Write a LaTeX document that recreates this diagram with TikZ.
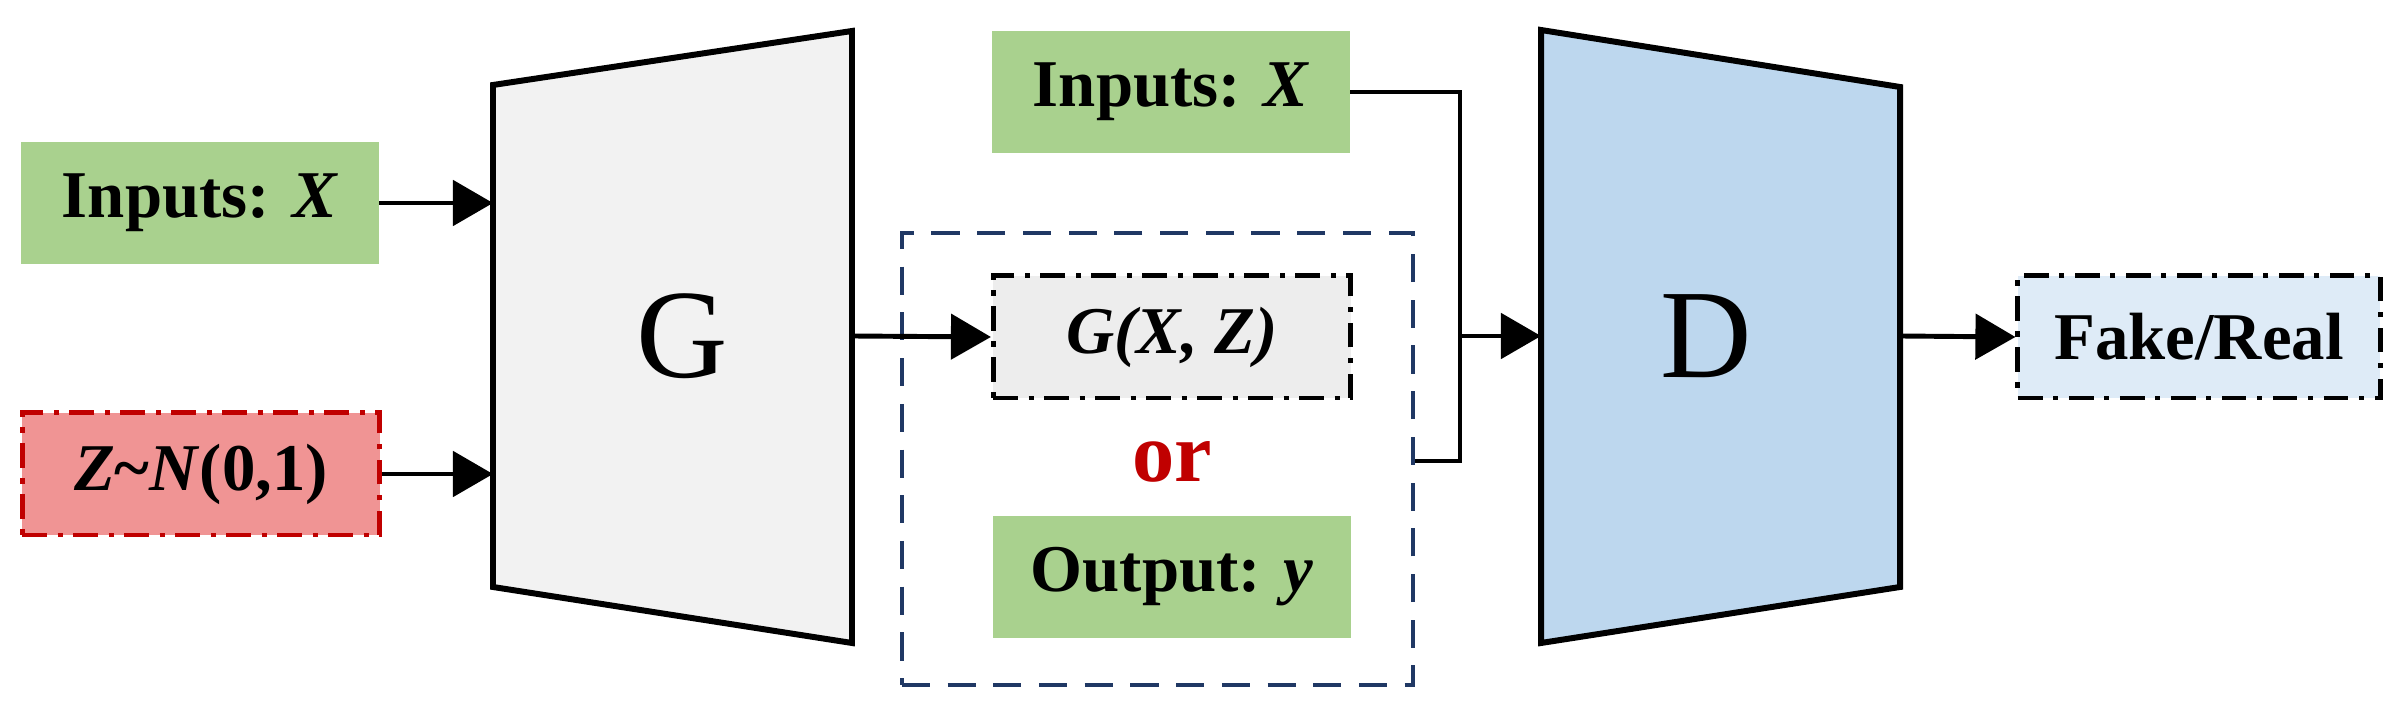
\documentclass[tikz,border=0pt]{standalone}
\usepackage{fontspec}
\setmainfont{Liberation Serif}
\usetikzlibrary{arrows.meta}
\definecolor{gr}{HTML}{A9D18E}
\definecolor{rd}{HTML}{F09494}
\definecolor{rdb}{HTML}{C00000}
\definecolor{gg}{HTML}{F2F2F2}
\definecolor{dd}{HTML}{BDD7EE}
\definecolor{gx}{HTML}{EDEDED}
\definecolor{fr}{HTML}{DEEBF7}
\definecolor{nv}{HTML}{203864}
\begin{document}
\begin{tikzpicture}[x=0.01cm,y=-0.01cm,
  box/.style={minimum width=3.57cm,minimum height=1.22cm,inner sep=0pt,font=\fontsize{19}{21}\selectfont\bfseries},
  grn/.style={box,fill=gr},
  dd/.style={line width=1.4pt,dash pattern=on 7pt off 3pt on 1.5pt off 3pt},
  arr/.style={line width=1.4pt,-{Triangle[length=0.4cm,width=0.45cm]}},
  ln/.style={line width=1.4pt},
  trap/.style={line width=1.7pt}]
\useasboundingbox (0,0) rectangle (2396,704);
% G and D
\draw[trap,fill=gg] (493,85) -- (852,31) -- (852,643) -- (493,587) -- cycle;
\node[font=\fontsize{36}{38}\selectfont] (G) at (682,336) {G};
\draw[trap,fill=dd] (1541,30) -- (1900,87) -- (1900,587) -- (1541,643) -- cycle;
\node[font=\fontsize{36}{38}\selectfont] (D) at (1706,336) {D};
\coordinate (Gin1) at (493,203);
\coordinate (Gin2) at (493,474);
\coordinate (Gout) at (852,336);
\coordinate (Din) at (1541,336);
\coordinate (Dout) at (1900,336);
% left inputs
\node[grn] (X1) at (200,203) {Inputs: \textit{X}};
\node[box,fill=rd,draw=rdb,dd] (Z) at (201,474) {\textit{Z}\textasciitilde\textit{N}(0,1)};
\draw[arr] (X1.east) -- (Gin1);
\draw[arr] (Z.east) -- (Gin2);
% dashed group
\node[draw=nv,line width=1.3pt,dash pattern=on 8pt off 5pt,minimum width=5.11cm,minimum height=4.52cm,inner sep=0pt] (grp) at (1157.5,459) {};
\node[box,fill=gx,draw=black,dd] (GXZ) at (1172,337) {\textit{G(X, Z)}};
\node[font=\fontsize{24}{26}\selectfont\bfseries,text=rdb] (or) at (1172,462) {or};
\node[grn] (Y) at (1172,577) {Output: \textit{y}};
\node[grn] (X2) at (1171,92) {Inputs: \textit{X}};
\draw[arr] (Gout) -- (GXZ.west);
\coordinate (J) at (1460,336);
\draw[ln] (X2.east) -- (1460,92) -- (1460,461) -- (grp.east |- 0,461);
\draw[arr] (J) -- (Din);
\node[box,fill=fr,draw=black,dd,minimum width=3.62cm] (FR) at (2199,337) {Fake/Real};
\draw[arr] (Dout) -- (FR.west);
\end{tikzpicture}
\end{document}
